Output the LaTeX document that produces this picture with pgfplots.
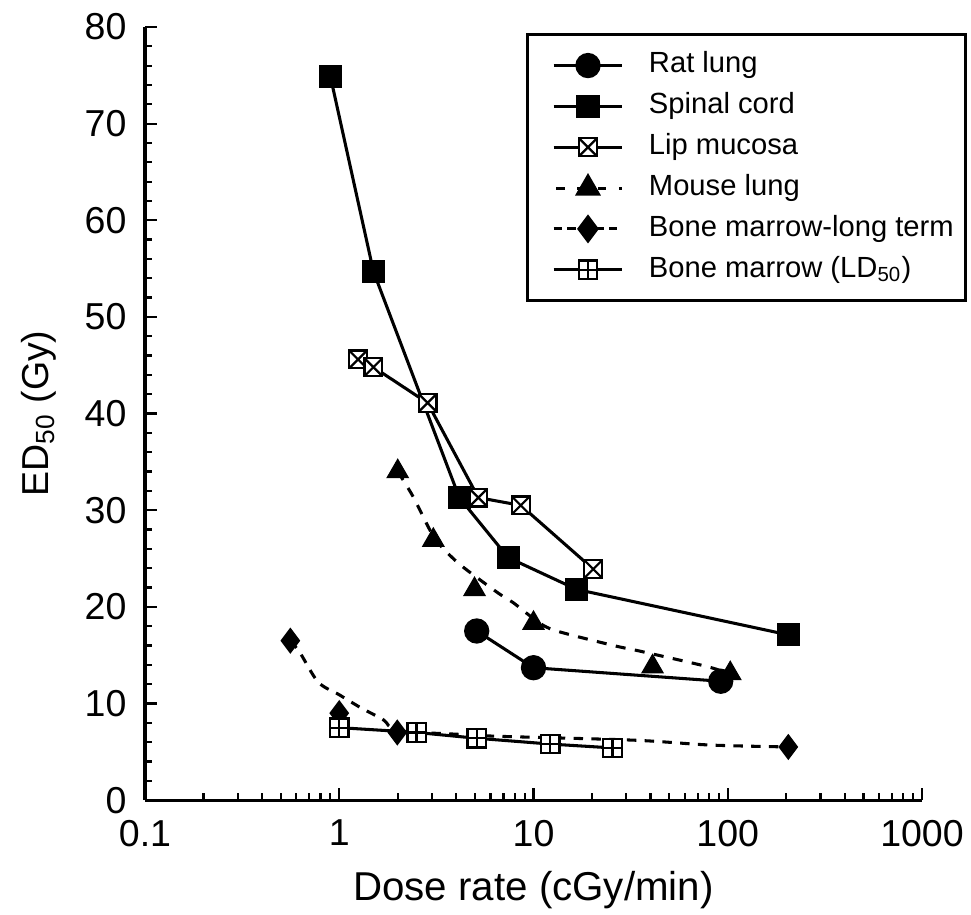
\documentclass[border=0pt]{standalone}
\usepackage{pgfplots}
\pgfplotsset{compat=1.18}
\usepackage{fontspec}
\setmainfont{Liberation Sans}
\usetikzlibrary{calc}

\pgfdeclareplotmark{boxx}{%
  \pgfpathrectangle{\pgfqpoint{-\pgfplotmarksize}{-\pgfplotmarksize}}{\pgfqpoint{2\pgfplotmarksize}{2\pgfplotmarksize}}%
  \pgfusepathqfillstroke
  \pgfpathmoveto{\pgfqpoint{-\pgfplotmarksize}{-\pgfplotmarksize}}\pgfpathlineto{\pgfqpoint{\pgfplotmarksize}{\pgfplotmarksize}}%
  \pgfpathmoveto{\pgfqpoint{-\pgfplotmarksize}{\pgfplotmarksize}}\pgfpathlineto{\pgfqpoint{\pgfplotmarksize}{-\pgfplotmarksize}}%
  \pgfusepathqstroke}
\pgfdeclareplotmark{boxplus}{%
  \pgfpathrectangle{\pgfqpoint{-\pgfplotmarksize}{-\pgfplotmarksize}}{\pgfqpoint{2\pgfplotmarksize}{2\pgfplotmarksize}}%
  \pgfusepathqfillstroke
  \pgfpathmoveto{\pgfqpoint{0pt}{-\pgfplotmarksize}}\pgfpathlineto{\pgfqpoint{0pt}{\pgfplotmarksize}}%
  \pgfpathmoveto{\pgfqpoint{-\pgfplotmarksize}{0pt}}\pgfpathlineto{\pgfqpoint{\pgfplotmarksize}{0pt}}%
  \pgfusepathqstroke}

\begin{document}
\begin{tikzpicture}
\begin{axis}[
  width=279.7pt, height=278.3pt, scale only axis,
  xmode=log, xmin=0.1, xmax=1000, ymin=0, ymax=80,
  axis lines=left, axis line style={-, line width=1.1pt},
  xtick={0.1,1,10,100,1000}, xticklabels={0.1,1,10,100,1000},
  minor xtick={0.2,0.3,0.4,0.5,0.6,0.7,0.8,0.9,2,3,4,5,6,7,8,9,20,30,40,50,60,70,80,90,200,300,400,500,600,700,800,900},
  ytick={0,10,20,30,40,50,60,70,80}, yticklabels={0,10,20,30,40,50,60,70,80},
  minor ytick={2,4,6,8,12,14,16,18,22,24,26,28,32,34,36,38,42,44,46,48,52,54,56,58,62,64,66,68,72,74,76,78},
  tick align=inside, tick style={black, line width=0.8pt},
  major tick length=4.5pt, minor tick length=2.4pt,
  xticklabel style={font=\fontsize{13.5}{15}\selectfont, inner sep=0pt, yshift=-7pt},
  yticklabel style={font=\fontsize{13.5}{15}\selectfont, inner sep=0pt, xshift=-6.5pt},
  xlabel={Dose rate (cGy/min)},
  ylabel={ED\textsubscript{50} (Gy)},
  xlabel style={font=\fontsize{14.5}{16}\selectfont, at={(axis description cs:0.5,0)}, anchor=north, inner sep=0pt, yshift=-25.5pt},
  ylabel style={font=\fontsize{13.5}{15}\selectfont, at={(axis description cs:0,0.5)}, anchor=south, inner sep=0pt, yshift=31.7pt},
  legend style={at={(1.058,0.992)}, anchor=north east, draw=black, line width=1pt,
    font=\fontsize{10.5}{12}\selectfont, inner xsep=4.3pt, inner ysep=6pt,
    row sep=4.4pt, column sep=9pt, cells={anchor=west},
    nodes={inner sep=0pt, text height=7.8pt, text depth=2.5pt}},
  legend cell align=left,
  legend image code/.code={\path (-4.5pt,0pt); \draw[mark repeat=2,mark phase=2,#1] plot coordinates {(0pt,0pt)(12.4pt,0pt)(24.8pt,0pt)};},
]
% fitted curves
\addplot[forget plot, black, line width=1.1pt, dash pattern=on 3.6pt off 3.4pt, smooth, tension=0.5] coordinates {
 (2,34) (2.4,31.4) (3.05,27.3) (3.6,25.6) (4.35,24.1) (6.5,21.5) (7.9,20.4) (10,18.8) (12.7,17.6) (25.8,16.0) (35.6,15.4) (79,13.8) (100,13.1)};
\addplot[forget plot, black, line width=1.1pt, dash pattern=on 3.4pt off 3pt, smooth, tension=0.5] coordinates {
 (0.56,16.5) (0.63,15.2) (0.78,12.2) (1.0,10.9) (1.28,9.6) (1.69,8.3) (2,7.2) (4.2,6.8) (6.7,6.6) (33,6.2) (81,5.7) (205,5.5)};

\addplot[black, line width=1.1pt, mark=*, mark size=4pt, mark options={solid, fill=black}] coordinates {
 (5.1,17.5) (10,13.7) (92,12.3)};
\addlegendentry{Rat lung}
\addplot[black, line width=1.1pt, mark=square*, mark size=3.6pt, mark options={solid, fill=black}] coordinates {
 (0.9,74.9) (1.5,54.7) (4.15,31.3) (7.4,25.1) (16.7,21.8) (205,17.1)};
\addlegendentry{Spinal cord}
\addplot[black, line width=1.1pt, mark=boxx, mark size=3.2pt, mark options={solid, fill=white, line width=0.8pt}] coordinates {
 (1.25,45.6) (1.5,44.8) (2.85,41.1) (5.2,31.3) (8.6,30.5) (20.3,23.9)};
\addlegendentry{Lip mucosa}
\addplot[black, only marks, mark=triangle*, mark size=4.4pt, mark options={solid, fill=black},
  legend image code/.code={\path (-4.5pt,0pt); \draw[black, line width=1.1pt, dash pattern=on 3pt off 4.5pt, dash phase=-1pt] (0pt,0pt) -- (24.8pt,0pt); \draw[mark=triangle*, mark size=4.4pt, mark options={solid, fill=black}] plot coordinates {(12.4pt,0pt)};}] coordinates {
 (2,34.0) (3.05,26.9) (4.97,21.8) (10,18.3) (41,13.8) (103,13.1)};
\addlegendentry{Mouse lung}
\addplot[black, only marks, mark=diamond*, mark size=4.4pt, mark options={solid, fill=black},
  legend image code/.code={\path (-4.5pt,0pt); \draw[black, line width=1.1pt, dash pattern=on 3pt off 2pt] (0pt,0pt) -- (24.8pt,0pt); \draw[mark=diamond*, mark size=4.4pt, mark options={solid, fill=black}] plot coordinates {(12.4pt,0pt)};}] coordinates {
 (0.56,16.5) (1,9.0) (1.99,7.0) (205,5.5)};
\addlegendentry{Bone marrow-long term}
\addplot[black, line width=1.1pt, mark=boxplus, mark size=3.3pt, mark options={solid, fill=white, line width=0.8pt}] coordinates {
 (1,7.5) (2.5,7.0) (5.1,6.4) (12.2,5.8) (25.5,5.4)};
\addlegendentry{Bone marrow (LD\textsubscript{50})}

\coordinate (sw) at (rel axis cs:0,0);
\coordinate (ne) at (rel axis cs:1,1);
\end{axis}
\pgfresetboundingbox
\path ($(sw)+(-52.2pt,-41.04pt)$) rectangle ($(ne)+(17.64pt,9.72pt)$);
\end{tikzpicture}
\end{document}
